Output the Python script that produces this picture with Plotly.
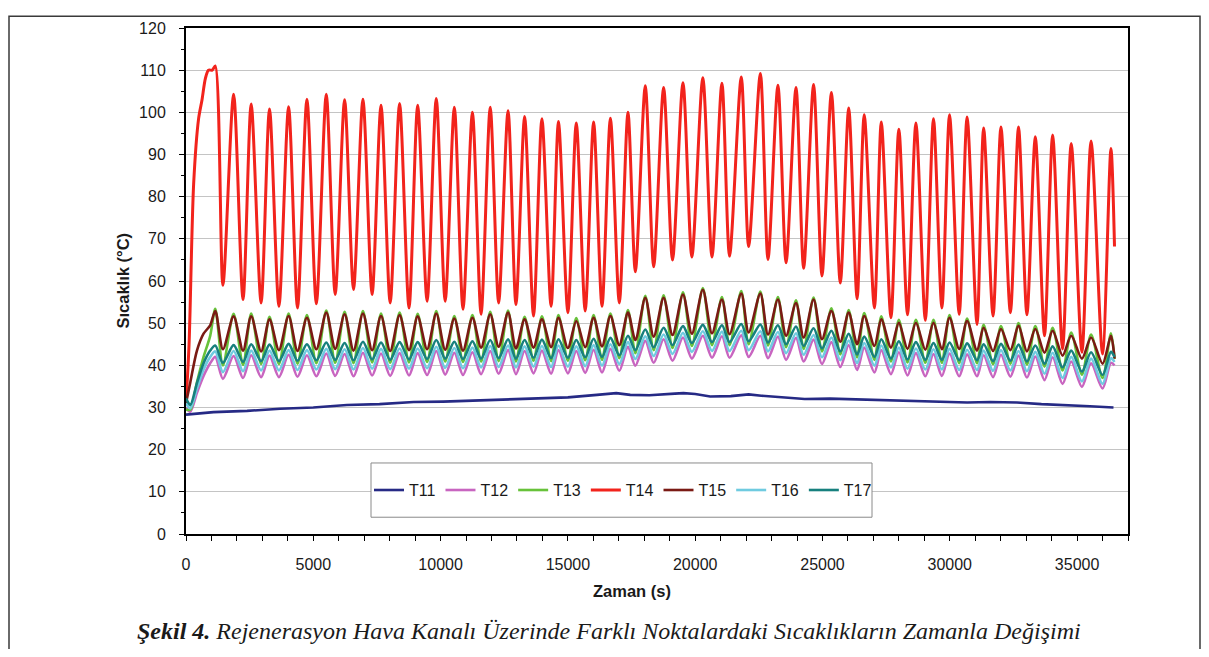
import plotly.graph_objects as go

# ---------------- data ----------------
# times (s) of the successive maxima / minima of the oscillation cycles
peak_t = [1150, 1870, 2560, 3280, 4030, 4750, 5510, 6230, 6950, 7660,
          8390, 9100, 9830, 10540, 11250, 11950, 12650, 13300, 13980, 14630,
          15330, 16010, 16670, 17360, 18040, 18760, 19520, 20300, 21050, 21810,
          22560, 23250, 23960, 24650, 25350, 26030, 26640, 27310, 28000, 28670,
          29360, 29990, 30680, 31330, 32010, 32700, 33360, 34040, 34770, 35550,
          36330]
trough_t = [1450, 2240, 2950, 3650, 4380, 5120, 5860, 6580, 7310, 8020,
            8760, 9470, 10180, 10880, 11590, 12280, 12960, 13650, 14340, 15000,
            15680, 16340, 17020, 17650, 18370, 19110, 19870, 20660, 21350, 22100,
            22860, 23570, 24260, 24980, 25700, 26360, 27040, 27690, 28340, 29040,
            29690, 30370, 31070, 31700, 32380, 33030, 33720, 34430, 35190, 36000]
start_t = [0, 170, 430, 690, 950]
end_t = 36470

# T11 (slow trend)
t11_t = [0, 1080, 2400, 3700, 5000, 6320, 7600, 8940, 10100, 11170, 12500,
         13790, 15000, 16140, 16900, 17450, 18200, 19200, 19540, 20000, 20590,
         21400, 22100, 22600, 23730, 24300, 25300, 26500, 27660, 29200, 30680,
         31600, 32640, 33600, 34600, 35500, 36430]
t11_v = [28.3, 28.9, 29.2, 29.7, 30.0, 30.6, 30.8, 31.3, 31.4, 31.6, 31.8,
         32.2, 32.4, 33.0, 33.4, 33.0, 32.9, 33.3, 33.4, 33.2, 32.6,
         32.7, 33.1, 32.8, 32.2, 32.0, 32.1, 31.9, 31.8, 31.5, 31.2,
         31.3, 31.2, 30.8, 30.6, 30.3, 30.0]

# T14
t14_start_t = [0, 120, 300, 495, 630, 760, 880, 1030]
t14_start_v = [31, 45, 83, 98.5, 103, 108, 110, 110]
t14_peak = [111, 104.3, 102, 100.8, 101.3, 103.1, 104.3, 103, 103.1, 101.7,
            102.1, 101.7, 103.3, 101.2, 100, 101.2, 100.4, 99, 98.5, 97.8,
            97.5, 97.7, 98.6, 100, 106.3, 105.9, 107, 108.2, 106.9, 108.4,
            109.2, 106.4, 105.9, 106.6, 104.7, 101, 99.4, 97.7, 96, 97.5,
            98.5, 99.4, 98.9, 96.3, 96.5, 96.5, 94.2, 94.6, 92.6, 93.2, 91.4]
t14_trough = [59, 55.6, 54.8, 54, 53.6, 54.6, 56.8, 58, 56.8, 54.8,
              53.6, 55.2, 55.2, 53.3, 52.1, 54.8, 54.4, 51.7, 54, 52.5,
              52.9, 54, 54.8, 62.2, 63.4, 65, 65.7, 65.7, 65.9, 68.2,
              65.1, 64.3, 63, 61.2, 59.5, 55.8, 53.6, 51.3, 52, 50.7,
              53.6, 52.1, 49.7, 51.7, 52.5, 52, 47, 43.9, 43.1, 42.7]
t14_end = 68.2

# T15
t15_start = [31.0, 36.0, 43.5, 47.5, 49.5]
t15_peak = [52.9, 51.6, 51.6, 50.9, 51.7, 51.3, 52.5, 52.1, 52.3, 51.7,
            51.9, 51.6, 52.3, 51.1, 51.3, 52.1, 52.5, 50.9, 50.9, 51.3,
            50.5, 51.3, 51.7, 52.5, 56, 56, 56.8, 57.9, 55.6, 57,
            57, 55.6, 54.8, 55.6, 52.9, 52.5, 51.7, 50.9, 50.1, 50.1,
            50.1, 51.3, 50.5, 48.9, 48.6, 49.4, 48.6, 48.2, 47, 46.6, 47]
t15_trough = [43.8, 43.5, 43.3, 43.6, 43.4, 43.8, 43.9, 43.5, 43.6, 43.4,
              43.6, 43.8, 43.7, 43.5, 44.2, 44.4, 44.0, 44.2, 44.3, 44.1,
              44.3, 44.5, 44.8, 46.0, 46.8, 47.2, 47.5, 47.6, 47.4, 47.8,
              47.3, 47.0, 46.6, 46.2, 45.6, 45.0, 44.6, 44.2, 43.9, 43.7,
              43.8, 43.9, 43.5, 43.4, 43.6, 43.3, 43.0, 42.3, 41.6, 40.4]
t15_end = 41.6

# T17
t17_start = [32.2, 30.6, 35.8, 40.5, 43.5]
t17_peak = [44.7, 44.8, 45.0, 44.9, 45.1, 45.0, 45.4, 45.3, 45.6, 45.4,
            45.5, 45.5, 46.0, 45.6, 45.7, 46.0, 46.2, 46.0, 46.1, 46.2,
            46.0, 46.3, 46.5, 47.0, 48.5, 48.9, 49.3, 49.6, 49.5, 49.8,
            49.7, 49.5, 49.2, 48.8, 48.2, 47.5, 46.8, 46.2, 45.7, 45.5,
            45.3, 45.4, 45.2, 45.0, 45.1, 44.9, 44.7, 44.5, 43.5, 43.1, 43.2]
t17_trough = [40.6, 40.8, 41.0, 41.0, 41.1, 41.2, 41.3, 41.2, 41.4, 41.3,
              41.4, 41.5, 41.6, 41.5, 41.6, 41.7, 41.6, 41.8, 41.7, 41.8,
              41.9, 42.0, 42.4, 43.6, 44.3, 44.8, 45.3, 45.5, 45.5, 45.7,
              45.4, 45.0, 44.6, 44.0, 43.3, 42.6, 42.0, 41.6, 41.4, 41.3,
              41.3, 41.2, 41.2, 41.0, 41.1, 40.9, 40.4, 39.5, 38.5, 37.7]
t17_end = 42.0

# T16
t16_start = [31.0, 29.8, 34.5, 39.0, 42.0]
t16_peak = [43.3, 43.4, 43.5, 43.5, 43.6, 43.6, 43.9, 43.8, 44.1, 43.9,
            44.0, 44.0, 44.4, 44.1, 44.2, 44.6, 44.7, 44.5, 44.6, 44.7,
            44.5, 44.8, 45.0, 45.5, 46.9, 47.3, 47.7, 48.1, 48.0, 48.2,
            48.1, 47.9, 47.6, 47.2, 46.6, 45.9, 45.3, 44.7, 44.2, 44.0,
            43.8, 43.9, 43.7, 43.5, 43.6, 43.4, 43.2, 43.0, 42.0, 41.6, 41.7]
t16_trough = [38.4, 38.6, 38.8, 38.8, 38.9, 39.0, 39.1, 39.0, 39.2, 39.1,
              39.2, 39.3, 39.4, 39.3, 39.5, 39.6, 39.5, 39.7, 39.6, 39.7,
              39.8, 39.9, 40.3, 41.5, 42.2, 42.7, 43.2, 43.4, 43.4, 43.6,
              43.3, 42.9, 42.5, 41.9, 41.2, 40.5, 39.9, 39.5, 39.2, 39.0,
              39.0, 38.9, 38.9, 38.7, 38.8, 38.6, 38.0, 37.0, 36.2, 35.6]
t16_end = 40.8

# T12
t12_start = [30.0, 29.0, 33.5, 37.5, 40.5]
t12_peak = [42.0, 42.2, 42.4, 42.3, 42.5, 42.4, 42.8, 42.7, 43.0, 42.8,
            42.9, 42.9, 43.4, 43.0, 43.1, 43.4, 43.6, 43.4, 43.5, 43.6,
            43.4, 43.7, 43.9, 44.4, 45.8, 46.2, 46.6, 47.0, 46.9, 47.1,
            47.0, 46.8, 46.5, 46.1, 45.5, 44.8, 44.2, 43.6, 43.1, 42.9,
            42.7, 42.8, 42.6, 42.4, 42.5, 42.3, 42.1, 41.9, 40.9, 40.5, 40.6]
t12_trough = [36.8, 37.0, 37.2, 37.2, 37.3, 37.4, 37.5, 37.4, 37.6, 37.5,
              37.6, 37.7, 37.8, 37.7, 37.9, 38.0, 37.9, 38.1, 38.0, 38.1,
              38.2, 38.3, 38.7, 39.9, 40.6, 41.1, 41.6, 41.8, 41.8, 42.0,
              41.7, 41.3, 40.9, 40.3, 39.6, 38.9, 38.3, 37.9, 37.6, 37.4,
              37.5, 37.4, 37.4, 37.2, 37.3, 37.1, 36.5, 35.6, 34.9, 34.5]
t12_end = 40.0

# T13
t13_start = [29.5, 29.5, 36.0, 42.0, 47.0]
t13_peak = [53.4, 52.2, 52.3, 51.5, 52.3, 51.9, 53.0, 52.7, 52.9, 52.3,
            52.5, 52.2, 52.9, 51.7, 51.9, 52.7, 53.0, 51.5, 51.6, 51.9,
            51.2, 51.9, 52.3, 53.1, 56.5, 56.6, 57.3, 58.3, 56.2, 57.6,
            57.5, 56.2, 55.4, 56.1, 53.5, 53.1, 52.4, 51.6, 50.8, 50.8,
            50.8, 51.9, 51.1, 49.6, 49.3, 50.0, 49.3, 48.9, 47.8, 47.3, 47.6]
t13_trough = [40.0, 40.1, 40.3, 40.3, 40.4, 40.5, 40.6, 40.5, 40.7, 40.6,
              40.7, 40.8, 40.9, 40.8, 40.9, 41.0, 40.9, 41.1, 41.0, 41.1,
              41.2, 41.3, 41.7, 42.9, 43.6, 44.1, 44.6, 44.8, 44.8, 45.0,
              44.7, 44.3, 43.9, 43.3, 42.6, 41.9, 41.3, 40.9, 40.7, 40.6,
              40.6, 40.5, 40.5, 40.3, 40.4, 40.2, 39.7, 38.8, 37.8, 37.0]
t13_end = 41.5

names = ["T11", "T12", "T13", "T14", "T15", "T16", "T17"]
colors = ["#262a85", "#c865c0", "#67c23a", "#f2231c", "#7a1a14", "#6fcbe0", "#17807e"]


def build(s_t, s_v, peaks, troughs, e_v):
    xs, ys = list(s_t), list(s_v)
    for i, pv in enumerate(peaks):
        xs.append(peak_t[i]); ys.append(pv)
        if i < len(troughs):
            xs.append(trough_t[i]); ys.append(troughs[i])
    xs.append(end_t); ys.append(e_v)
    return xs, ys


series = {
    "T11": (t11_t, t11_v),
    "T12": build(start_t, t12_start, t12_peak, t12_trough, t12_end),
    "T13": build(start_t, t13_start, t13_peak, t13_trough, t13_end),
    "T14": build(t14_start_t, t14_start_v, t14_peak, t14_trough, t14_end),
    "T15": build(start_t, t15_start, t15_peak, t15_trough, t15_end),
    "T16": build(start_t, t16_start, t16_peak, t16_trough, t16_end),
    "T17": build(start_t, t17_start, t17_peak, t17_trough, t17_end),
}

fig = go.Figure()
for n, c in zip(names, colors):
    xs, ys = series[n]
    if n == "T11":
        ln = dict(color=c, width=2.6)
    else:
        ln = dict(color=c, width=3 if n == "T14" else 2.6, shape="spline", smoothing=0.8)
    fig.add_trace(go.Scatter(x=xs, y=ys, mode="lines", name=n, line=ln))

FONT = "Liberation Sans, Arial, sans-serif"
OFF = 8                       # page body margin (screen offset of the figure)
W, H = 1193, 641
L, R, T, B = 178, 73, 13, 115
PW, PH = W - L - R, H - T - B


def px(xs):
    # screen x -> paper x
    return (xs - OFF - L) / PW


def py(ys):
    # screen y -> paper y
    return (H - B - (ys - OFF)) / PH


fig.update_layout(
    width=W, height=H,
    margin=dict(l=L, r=R, t=T, b=B, pad=0),
    paper_bgcolor="white", plot_bgcolor="white",
    font=dict(family=FONT, size=16, color="#1a1a1a"),
    showlegend=True,
    legend=dict(orientation="h", x=px(623), xanchor="center", y=py(489.5), yanchor="middle",
                bgcolor="rgba(0,0,0,0)", borderwidth=0, font=dict(size=16, family=FONT),
                itemwidth=30, traceorder="normal"),
    xaxis=dict(range=[0, 37000], tickmode="linear", tick0=0, dtick=5000, tickformat="d",
               showgrid=False, zeroline=False,
               showline=True, linecolor="black", linewidth=2, mirror=True,
               ticks="outside", ticklen=5, tickcolor="black", tickwidth=1,
               ticklabelstandoff=10,
               minor=dict(dtick=1000, ticks="outside", ticklen=5, tickcolor="black", showgrid=False),
               tickfont=dict(size=16, family=FONT)),
    yaxis=dict(range=[0, 120], tickmode="linear", tick0=0, dtick=10, tickformat="d",
               showgrid=True, gridcolor="#c4c4c4", gridwidth=1, zeroline=False,
               showline=True, linecolor="black", linewidth=2, mirror=True,
               ticks="outside", ticklen=5, tickcolor="black", tickwidth=1,
               ticklabelstandoff=10,
               minor=dict(dtick=5, ticks="outside", ticklen=3, tickcolor="black", showgrid=False),
               tickfont=dict(size=16, family=FONT)),
    shapes=[
        # legend box
        dict(type="rect", xref="paper", yref="paper", x0=px(371), x1=px(872), y0=py(517), y1=py(462),
             line=dict(color="#8a8a8a", width=1), fillcolor="white", layer="above"),
        # outer frame of the figure
        dict(type="rect", xref="paper", yref="paper", x0=px(9), x1=px(1200), y0=py(720), y1=py(9),
             line=dict(color="#3a3a3a", width=1.5), fillcolor="rgba(0,0,0,0)", layer="above"),
    ],
    annotations=[
        dict(text="<b>Sıcaklık (°C)</b>", xref="paper", yref="paper", x=px(123), y=py(277),
             xanchor="center", yanchor="middle", textangle=-90, showarrow=False,
             font=dict(size=16.5, family=FONT, color="#1a1a1a")),
        dict(text="<b>Zaman (s)</b>", xref="paper", yref="paper", x=px(632), y=py(592),
             xanchor="center", yanchor="middle", showarrow=False,
             font=dict(size=16.5, family=FONT, color="#1a1a1a")),
        dict(text="<b><i>Şekil 4.</i></b><i> Rejenerasyon Hava Kanalı Üzerinde Farklı Noktalardaki "
                  "Sıcaklıkların Zamanla Değişimi</i>",
             xref="paper", yref="paper", x=px(609), y=py(632),
             xanchor="center", yanchor="middle", showarrow=False,
             font=dict(size=24, family="Liberation Serif, Times New Roman, serif", color="#1a1a1a")),
    ],
)

fig.write_html("out.html")
